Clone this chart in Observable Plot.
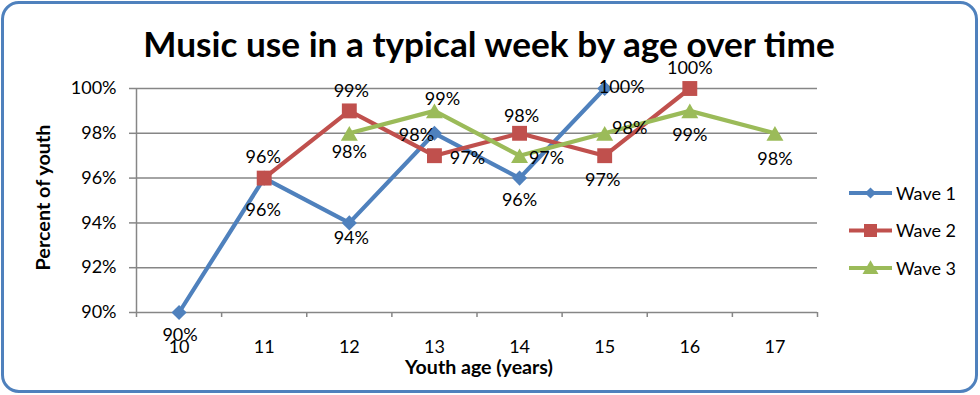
<!DOCTYPE html>
<html><head><meta charset="utf-8">
<script src="https://cdn.jsdelivr.net/npm/d3@7"></script>
<script src="https://cdn.jsdelivr.net/npm/@observablehq/plot@0.6"></script>
<style>
  body{margin:0;background:#fff;}
  #wrap{position:relative;width:980px;height:395px;overflow:hidden;background:#fff;}
  #frame{position:absolute;left:1px;top:1px;width:977px;height:392px;box-sizing:border-box;border:3px solid #4F81BD;border-radius:18px;}
  #chart{position:absolute;left:0;top:0;}
  #overlay{position:absolute;left:0;top:0;}
</style>
</head><body>
<div id="wrap"><div id="frame"></div><div id="chart"></div><svg id="overlay" width="980" height="395"></svg></div>
<script>
// ---- data ----
const ages = [10, 11, 12, 13, 14, 15, 16, 17];
const seriesNames = ["Wave 1", "Wave 2", "Wave 3"];
const wave1 = [90, 96, 94, 98, 96, 100, null, null];
const wave2 = [null, 96, 99, 97, 98, 97, 100, null];
const wave3 = [null, null, 98, 99, 97, 98, 99, 98];
const yTicks = [90, 92, 94, 96, 98, 100];
const titleText = "Music use in a typical week by age over time";
const xTitle = "Youth age (years)";
const yTitle = "Percent of youth";

// ---- styling / layout (not data) ----
const colors = {"Wave 1": "#4F81BD", "Wave 2": "#C0504D", "Wave 3": "#9BBB59"};
const symbols = {"Wave 1": "diamond2", "Wave 2": "square", "Wave 3": "triangle"};
const radii = {"Wave 1": 6.8, "Wave 2": 8.4, "Wave 3": 6.3};
const symDy = {"Wave 1": 0, "Wave 2": 0, "Wave 3": 2.5};
const labelOffsets = {
  "Wave 1": [[1,23],[-1,32],[2,15],[-18,2],[0,22],[17,-1],null,null],
  "Wave 2": [null,[-1,-21],[2,-20],[33,3],[2,-17],[-2,25],[0,-20],null],
  "Wave 3": [null,null,[0,19],[8,-12],[27,3],[25,-5],[0,24],[0,26]]
};
const FONT = "Lato, 'Open Sans', sans-serif";

const seriesValues = {"Wave 1": wave1, "Wave 2": wave2, "Wave 3": wave3};
const rows = [];
for (const s of seriesNames) {
  seriesValues[s].forEach((v, i) => {
    if (v != null) rows.push({series: s, age: ages[i], value: v, off: labelOffsets[s][i]});
  });
}
const boundaries = ages.map(a => a - 0.5).concat([ages[ages.length - 1] + 0.5]);
const gridColor = "#868686";

const marks = [
  Plot.gridY(yTicks, {stroke: gridColor, strokeOpacity: 1, strokeWidth: 1.5}),
  Plot.ruleX([boundaries[0]], {stroke: gridColor, strokeWidth: 1.5}),
  Plot.axisY(yTicks, {tickSize: 7, tickPadding: 13, tickFormat: d => d + "%", stroke: gridColor, strokeWidth: 1.5, fill: "#000", label: null, fontSize: 18}),
  Plot.axisX(boundaries, {tickSize: 5, tickFormat: () => "", stroke: gridColor, strokeWidth: 1.5, label: null}),
  Plot.axisX(ages, {tickSize: 0, tickPadding: 28, fill: "#000", label: null, fontSize: 18, tickFormat: d => String(d)})
];
for (const s of seriesNames) {
  const data = rows.filter(r => r.series === s);
  marks.push(Plot.line(data, {x: "age", y: "value", stroke: colors[s], strokeWidth: 4.2, strokeLinejoin: "round"}));
  marks.push(Plot.dot(data, {x: "age", y: "value", symbol: symbols[s], r: radii[s], fill: colors[s], stroke: "none", dy: symDy[s]}));
}
for (const r of rows) {
  marks.push(Plot.text([r], {x: "age", y: "value", text: d => d.value + "%", dx: r.off[0], dy: r.off[1], fill: "#000", fontSize: 18}));
}

const chart = Plot.plot({
  width: 980, height: 395,
  marginLeft: 136, marginRight: 163, marginTop: 88, marginBottom: 83,
  style: {fontFamily: FONT, fontSize: "18px", color: "#000", background: "transparent", overflow: "visible"},
  x: {type: "linear", domain: [boundaries[0], boundaries[boundaries.length - 1]]},
  y: {domain: [yTicks[0], yTicks[yTicks.length - 1]]},
  marks
});
document.getElementById("chart").appendChild(chart);

// ---- overlay texts: title, axis titles, legend ----
const ov = d3.select("#overlay");
ov.append("text").attr("x", 489).attr("y", 57).attr("text-anchor", "middle")
  .attr("font-family", FONT).attr("font-weight", "bold").attr("font-size", 35.2).text(titleText);
ov.append("text").attr("x", 479).attr("y", 373.5).attr("text-anchor", "middle")
  .attr("font-family", FONT).attr("font-weight", "bold").attr("font-size", 19.6).text(xTitle);
ov.append("text").attr("transform", "translate(50,197.5) rotate(-90)").attr("text-anchor", "middle")
  .attr("font-family", FONT).attr("font-weight", "bold").attr("font-size", 19.8).text(yTitle);

const legSym = {"Wave 1": [d3.symbolDiamond2, 80], "Wave 2": [d3.symbolSquare, 169], "Wave 3": [d3.symbolTriangle, 110]};
seriesNames.forEach((s, i) => {
  const cy = 193 + i * 37.5;
  const g = ov.append("g");
  g.append("line").attr("x1", 849).attr("x2", 892).attr("y1", cy).attr("y2", cy)
    .attr("stroke", colors[s]).attr("stroke-width", 4.2);
  g.append("path").attr("d", d3.symbol(legSym[s][0], legSym[s][1])())
    .attr("transform", `translate(870.5,${cy + (s === "Wave 3" ? 1.5 : 0)})`).attr("fill", colors[s]);
  g.append("text").attr("x", 896).attr("y", cy + 6.5).attr("font-family", FONT)
    .attr("font-size", 18).text(s);
});
</script>
</body></html>
